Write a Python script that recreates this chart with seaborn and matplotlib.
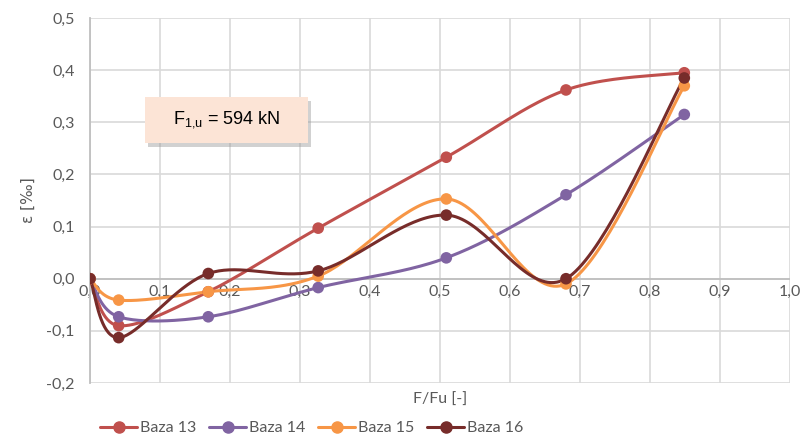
import numpy as np
import pandas as pd
import seaborn as sns
import matplotlib.pyplot as plt
from matplotlib.lines import Line2D
from matplotlib.patches import FancyBboxPatch

# data (x = F/Fu, y = strain in per mille)
force_ratio = [0.0, 0.041, 0.169, 0.326, 0.509, 0.680, 0.849]
baza_13 = [0.0, -0.090, -0.025, 0.097, 0.233, 0.362, 0.395]
baza_14 = [0.0, -0.073, -0.073, -0.017, 0.040, 0.161, 0.315]
baza_15 = [0.0, -0.041, -0.025, 0.005, 0.153, -0.010, 0.370]
baza_16 = [0.0, -0.113, 0.010, 0.015, 0.122, 0.000, 0.385]

series_names = ['Baza 13', 'Baza 14', 'Baza 15', 'Baza 16']
series_values = [baza_13, baza_14, baza_15, baza_16]
colors = ['#C0504D', '#8064A2', '#F79646', '#772C2A']

x_ticks = [0.0, 0.1, 0.2, 0.3, 0.4, 0.5, 0.6, 0.7, 0.8, 0.9, 1.0]
y_ticks = [-0.2, -0.1, 0.0, 0.1, 0.2, 0.3, 0.4, 0.5]


def smooth_line(xs, ys, steps=40):
    """Excel-like smoothed line: cubic bezier through the points."""
    p = np.column_stack([xs, ys])
    n = len(p)
    out = []
    for i in range(n - 1):
        p0 = p[i - 1] if i > 0 else p[i]
        p1 = p[i]
        p2 = p[i + 1]
        p3 = p[i + 2] if i + 2 < n else p[i + 1]
        c1 = p1 + (p2 - p0) / 6.0
        c2 = p2 - (p3 - p1) / 6.0
        t = np.linspace(0, 1, steps)[:, None]
        seg = ((1 - t) ** 3) * p1 + 3 * ((1 - t) ** 2) * t * c1 + 3 * (1 - t) * t ** 2 * c2 + t ** 3 * p2
        out.append(seg if i == 0 else seg[1:])
    return np.vstack(out)


sns.set_style('white')
plt.rcParams['font.family'] = ['Lato', 'DejaVu Sans']

fig = plt.figure(figsize=(8.03, 4.38), dpi=100)
ax = fig.add_axes([90 / 803, 55 / 438, 700 / 803, 365 / 438])

for name, vals, col in zip(series_names, series_values, colors):
    curve = smooth_line(force_ratio, vals)
    df_curve = pd.DataFrame({'x': curve[:, 0], 'y': curve[:, 1]})
    sns.lineplot(data=df_curve, x='x', y='y', sort=False, color=col, lw=2.2, ax=ax, zorder=3)
    df_pts = pd.DataFrame({'x': force_ratio, 'y': vals})
    sns.scatterplot(data=df_pts, x='x', y='y', color=col, s=70, edgecolor='none', ax=ax, zorder=4)

ax.set_xlim(0, 1.0)
ax.set_ylim(-0.2, 0.5)
ax.set_xticks(x_ticks)
ax.set_yticks(y_ticks)
ax.grid(True, color='#D9D9D9', lw=1.2, zorder=0)
ax.set_axisbelow(True)

for s in ['top', 'right', 'bottom']:
    ax.spines[s].set_visible(False)
ax.spines['left'].set_color('#BFBFBF')
ax.spines['left'].set_linewidth(1.3)
ax.axhline(0, color='#BFBFBF', lw=1.3, zorder=1)

ax.set_yticklabels([f'{v:.1f}'.replace('.', ',') for v in y_ticks], color='#595959', fontsize=11.5)
ax.tick_params(axis='y', length=0, pad=11)
ax.tick_params(axis='x', length=0)
ax.set_xticklabels([])
for v in x_ticks:
    ax.text(v, -0.012, f'{v:.1f}'.replace('.', ','), ha='center', va='top',
            color='#595959', fontsize=11.5, zorder=2)

ax.set_xlabel('')
ax.set_ylabel('')
fig.text(440 / 803, 1 - 400 / 438, 'F/Fu [-]', ha='center', va='center', color='#595959', fontsize=11.5)
fig.text(28 / 803, 1 - 200 / 438, 'ε [‰]', ha='center', va='center', rotation=90,
         color='#595959', fontsize=11, family=['DejaVu Sans'])

# annotation box with shadow
bx, by, bw, bh = 145 / 803, 1 - 143 / 438, 163 / 803, 46 / 438
shadow = FancyBboxPatch((bx + 3 / 803, by - 4 / 438), bw, bh, boxstyle='square,pad=0',
                        transform=fig.transFigure, facecolor='#9a9a9a', edgecolor='none',
                        alpha=0.45, zorder=5)
box = FancyBboxPatch((bx, by), bw, bh, boxstyle='square,pad=0', transform=fig.transFigure,
                     facecolor='#FCE4D6', edgecolor='none', zorder=6)
fig.patches.extend([shadow, box])
fig.text(bx + bw / 2, by + bh / 2, r'F$_{\mathregular{1{,}u}}$ = 594 kN', ha='center', va='center',
         fontsize=13, color='black', family=['Liberation Sans', 'DejaVu Sans'], zorder=7)

handles = [Line2D([0], [0], color=c, lw=2.2, marker='o', markersize=8) for c in colors]
leg = fig.legend(handles, series_names, loc='center', bbox_to_anchor=(312 / 803, 1 - 428 / 438),
                 ncol=4, frameon=False, fontsize=11.5, handlelength=2.3, columnspacing=0.8,
                 handletextpad=0.2)
for t in leg.get_texts():
    t.set_color('#595959')

fig.savefig('out.png', dpi=100)
